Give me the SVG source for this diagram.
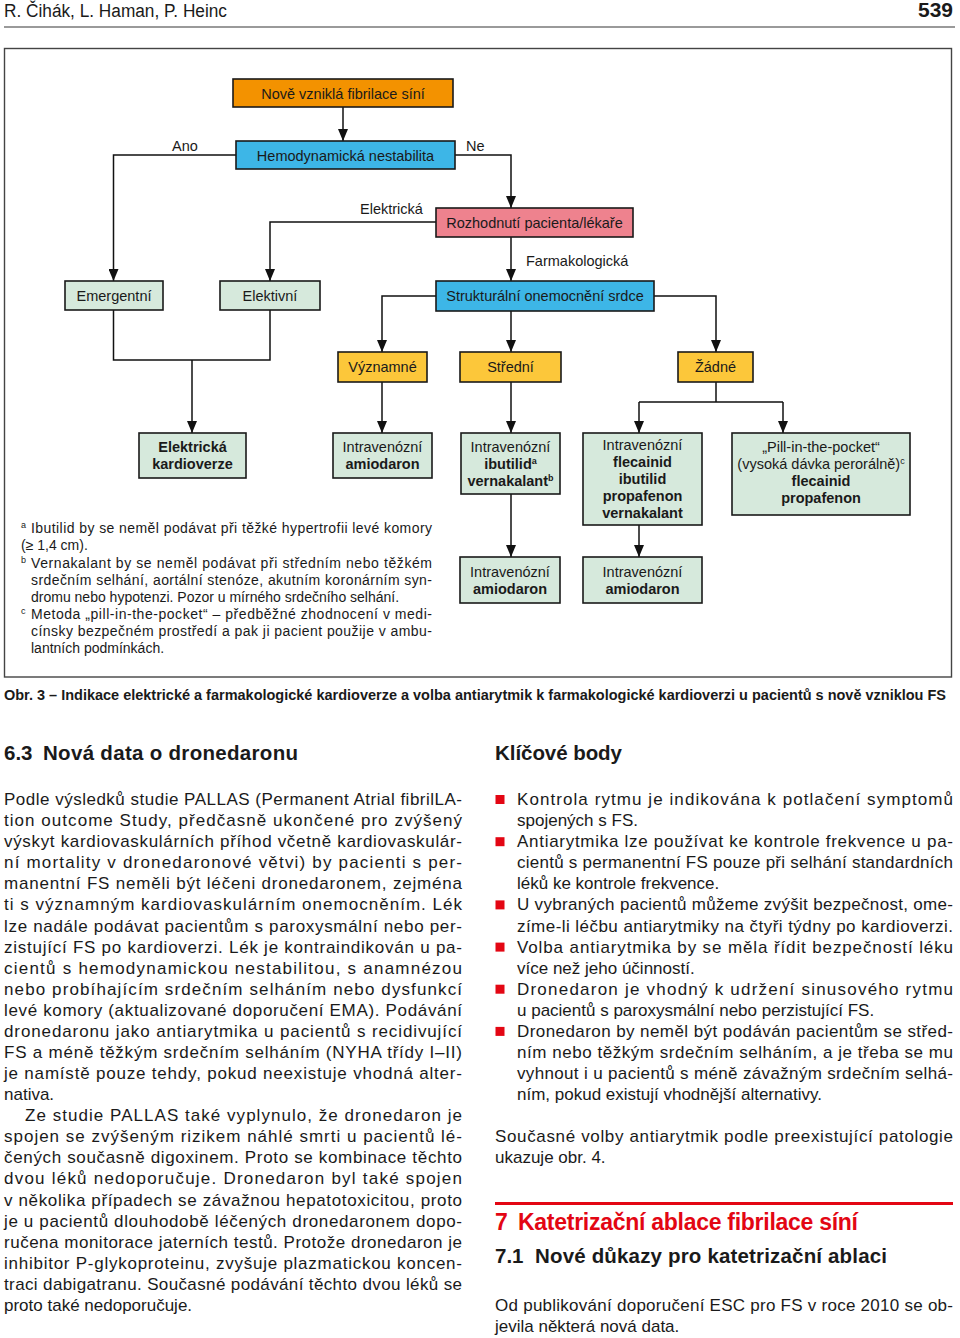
<svg xmlns="http://www.w3.org/2000/svg" width="960" height="1338" viewBox="0 0 960 1338">
<defs>
<marker id="arr" viewBox="0 0 12 10" refX="12" refY="5" markerWidth="12" markerHeight="10" markerUnits="userSpaceOnUse" orient="auto">
<path d="M0,0 L12,5 L0,10 z" fill="#111"/>
</marker>
<style>
text{font-family:"Liberation Sans",Arial,sans-serif;fill:#1a1a1a}
.bx{stroke:#1a1a1a;stroke-width:1.6}
.or{fill:#F39200}.bl{fill:#3DB6E7}.pk{fill:#EE828E}.ye{fill:#FCC73A}.gr{fill:#D6E9DC}
.nt{font-size:14.5px;text-anchor:middle}
.b{font-weight:bold}
.lb{font-size:14.5px}
.fn{font-size:14px}
.sup{font-size:9px}
.body{font-size:17px}
.h2{font-size:20.5px;font-weight:bold}
.con{fill:none;stroke:#111;stroke-width:1.5}
.ar{marker-end:url(#arr)}
.bul{fill:#E30613}
</style>
</defs>
<rect width="960" height="1338" fill="#fff"/>

<!-- page header -->
<text x="4" y="17" font-size="18" textLength="223" lengthAdjust="spacingAndGlyphs">R. Čihák, L. Haman, P. Heinc</text>
<text x="953" y="17" font-size="20" font-weight="bold" text-anchor="end" textLength="35" lengthAdjust="spacingAndGlyphs">539</text>
<line x1="4" y1="27" x2="955" y2="27" stroke="#9a9a9a" stroke-width="2"/>

<!-- frame -->
<rect x="4.5" y="48.5" width="947" height="628.5" fill="none" stroke="#444" stroke-width="1.4"/>

<!-- connectors -->
<g id="connectors">
<path class="con ar" d="M343,107 V141"/>
<path class="con ar" d="M236,155 H113.5 V281"/>
<path class="con ar" d="M455,155 H511 V208"/>
<path class="con ar" d="M436,222 H270 V281"/>
<path class="con ar" d="M511,237 V281"/>
<path class="con ar" d="M436,296 H382 V352"/>
<path class="con ar" d="M511,311 V352"/>
<path class="con ar" d="M654,296 H716 V352"/>
<path class="con" d="M113.5,310 V360 H270 V310"/>
<path class="con ar" d="M192,360 V433"/>
<path class="con ar" d="M382,382 V433"/>
<path class="con ar" d="M511,382 V433"/>
<path class="con" d="M716,382 V402 M639,402 H783"/>
<path class="con ar" d="M639,402 V433"/>
<path class="con ar" d="M783,402 V433"/>
<path class="con ar" d="M511,494 V557"/>
<path class="con ar" d="M639,525 V557"/>
<text class="lb" x="172" y="151">Ano</text>
<text class="lb" x="466" y="151">Ne</text>
<text class="lb" x="360" y="214">Elektrická</text>
<text class="lb" x="526" y="266">Farmakologická</text>
</g>

<g id="n-nove">
<rect class="bx or" x="233" y="79" width="220" height="28"/>
<text class="nt" x="343" y="98.5">Nově vzniklá fibrilace síní</text>
</g>
<g id="n-hemo">
<rect class="bx bl" x="236" y="141" width="219" height="28"/>
<text class="nt" x="345.5" y="160.5">Hemodynamická nestabilita</text>
</g>
<g id="n-rozhodnuti">
<rect class="bx pk" x="436" y="208" width="197" height="29"/>
<text class="nt" x="534.5" y="227.5">Rozhodnutí pacienta/lékaře</text>
</g>
<g id="n-emergentni">
<rect class="bx gr" x="65" y="281" width="98" height="29"/>
<text class="nt" x="114" y="300.5">Emergentní</text>
</g>
<g id="n-elektivni">
<rect class="bx gr" x="220" y="281" width="100" height="29"/>
<text class="nt" x="270" y="300.5">Elektivní</text>
</g>
<g id="n-strukturalni">
<rect class="bx bl" x="436" y="281" width="218" height="30"/>
<text class="nt" x="545" y="301">Strukturální onemocnění srdce</text>
</g>
<g id="n-vyznamne">
<rect class="bx ye" x="338" y="352" width="89" height="30"/>
<text class="nt" x="382.5" y="372">Významné</text>
</g>
<g id="n-stredni">
<rect class="bx ye" x="460" y="352" width="101" height="30"/>
<text class="nt" x="510.5" y="372">Střední</text>
</g>
<g id="n-zadne">
<rect class="bx ye" x="678" y="352" width="75" height="30"/>
<text class="nt" x="715.5" y="372">Žádné</text>
</g>
<g id="n-ekv">
<rect class="bx gr" x="139" y="433" width="107" height="45"/>
<text class="nt b" x="192.5" y="452">Elektrická</text>
<text class="nt b" x="192.5" y="469">kardioverze</text>
</g>
<g id="n-amio1">
<rect class="bx gr" x="333" y="433" width="99" height="45"/>
<text class="nt" x="382.5" y="452">Intravenózní</text>
<text class="nt b" x="382.5" y="469">amiodaron</text>
</g>
<g id="n-ibut">
<rect class="bx gr" x="461" y="433" width="99" height="61"/>
<text class="nt" x="510.5" y="452">Intravenózní</text>
<text class="nt b" x="510.5" y="469">ibutilid<tspan class="sup" dy="-5">a</tspan></text>
<text class="nt b" x="510.5" y="486">vernakalant<tspan class="sup" dy="-5">b</tspan></text>
</g>
<g id="n-flec">
<rect class="bx gr" x="583" y="433" width="119" height="92"/>
<text class="nt" x="642.5" y="450">Intravenózní</text>
<text class="nt b" x="642.5" y="467">flecainid</text>
<text class="nt b" x="642.5" y="484">ibutilid</text>
<text class="nt b" x="642.5" y="501">propafenon</text>
<text class="nt b" x="642.5" y="518">vernakalant</text>
</g>
<g id="n-pill">
<rect class="bx gr" x="732" y="433" width="178" height="82"/>
<text class="nt" x="821" y="452">„Pill-in-the-pocket“</text>
<text class="nt" x="821" y="469">(vysoká dávka perorálně)<tspan class="sup" dy="-5">c</tspan></text>
<text class="nt b" x="821" y="486">flecainid</text>
<text class="nt b" x="821" y="503">propafenon</text>
</g>
<g id="n-amio2">
<rect class="bx gr" x="460" y="557" width="100" height="46"/>
<text class="nt" x="510" y="577">Intravenózní</text>
<text class="nt b" x="510" y="594">amiodaron</text>
</g>
<g id="n-amio3">
<rect class="bx gr" x="583" y="557" width="119" height="46"/>
<text class="nt" x="642.5" y="577">Intravenózní</text>
<text class="nt b" x="642.5" y="594">amiodaron</text>
</g>

<!-- footnotes -->
<g id="footnotes" class="fn">
<text class="sup" x="21" y="528">a</text>
<text x="31" y="533" textLength="401" lengthAdjust="spacing">Ibutilid by se neměl podávat při těžké hypertrofii levé komory</text>
<text x="21" y="550">(≥ 1,4 cm).</text>
<text class="sup" x="21" y="563">b</text>
<text x="31" y="568" textLength="401" lengthAdjust="spacing">Vernakalant by se neměl podávat při středním nebo těžkém</text>
<text x="31" y="585" textLength="401" lengthAdjust="spacing">srdečním selhání, aortální stenóze, akutním koronárním syn-</text>
<text x="31" y="602">dromu nebo hypotenzi. Pozor u mírného srdečního selhání.</text>
<text class="sup" x="21" y="614">c</text>
<text x="31" y="619" textLength="401" lengthAdjust="spacing">Metoda „pill-in-the-pocket“ – předběžné zhodnocení v medi-</text>
<text x="31" y="636" textLength="401" lengthAdjust="spacing">cínsky bezpečném prostředí a pak ji pacient použije v ambu-</text>
<text x="31" y="653">lantních podmínkách.</text>
</g>

<!-- caption -->
<text x="4" y="700" font-size="14" font-weight="bold" textLength="942" lengthAdjust="spacingAndGlyphs">Obr. 3 – Indikace elektrické a farmakologické kardioverze a volba antiarytmik k farmakologické kardioverzi u pacientů s nově vzniklou FS</text>

<!-- left column -->
<text class="h2" x="4" y="760">6.3</text>
<text class="h2" x="43" y="760" textLength="255" lengthAdjust="spacing">Nová data o dronedaronu</text>
<g class="body">
<text x="4" y="805" textLength="458" lengthAdjust="spacing">Podle výsledků studie PALLAS (Permanent Atrial fibrilLA-</text>
<text x="4" y="826.1" textLength="458" lengthAdjust="spacing">tion outcome Study, předčasně ukončené pro zvýšený</text>
<text x="4" y="847.2" textLength="458" lengthAdjust="spacing">výskyt kardiovaskulárních příhod včetně kardiovaskulár-</text>
<text x="4" y="868.2" textLength="458" lengthAdjust="spacing">ní mortality v dronedaronové větvi) by pacienti s per-</text>
<text x="4" y="889.3" textLength="458" lengthAdjust="spacing">manentní FS neměli být léčeni dronedaronem, zejména</text>
<text x="4" y="910.4" textLength="458" lengthAdjust="spacing">ti s významným kardiovaskulárním onemocněním. Lék</text>
<text x="4" y="931.5" textLength="458" lengthAdjust="spacing">lze nadále podávat pacientům s paroxysmální nebo per-</text>
<text x="4" y="952.6" textLength="458" lengthAdjust="spacing">zistující FS po kardioverzi. Lék je kontraindikován u pa-</text>
<text x="4" y="973.6" textLength="458" lengthAdjust="spacing">cientů s hemodynamickou nestabilitou, s anamnézou</text>
<text x="4" y="994.7" textLength="458" lengthAdjust="spacing">nebo probíhajícím srdečním selháním nebo dysfunkcí</text>
<text x="4" y="1015.8" textLength="458" lengthAdjust="spacing">levé komory (aktualizované doporučení EMA). Podávání</text>
<text x="4" y="1036.9" textLength="458" lengthAdjust="spacing">dronedaronu jako antiarytmika u pacientů s recidivující</text>
<text x="4" y="1058" textLength="458" lengthAdjust="spacing">FS a méně těžkým srdečním selháním (NYHA třídy I–II)</text>
<text x="4" y="1079" textLength="458" lengthAdjust="spacing">je namístě pouze tehdy, pokud neexistuje vhodná alter-</text>
<text x="4" y="1100.1">nativa.</text>
<text x="25" y="1121.2" textLength="437" lengthAdjust="spacing">Ze studie PALLAS také vyplynulo, že dronedaron je</text>
<text x="4" y="1142.3" textLength="458" lengthAdjust="spacing">spojen se zvýšeným rizikem náhlé smrti u pacientů lé-</text>
<text x="4" y="1163.4" textLength="458" lengthAdjust="spacing">čených současně digoxinem. Proto se kombinace těchto</text>
<text x="4" y="1184.4" textLength="458" lengthAdjust="spacing">dvou léků nedoporučuje. Dronedaron byl také spojen</text>
<text x="4" y="1205.5" textLength="458" lengthAdjust="spacing">v několika případech se závažnou hepatotoxicitou, proto</text>
<text x="4" y="1226.6" textLength="458" lengthAdjust="spacing">je u pacientů dlouhodobě léčených dronedaronem dopo-</text>
<text x="4" y="1247.7" textLength="458" lengthAdjust="spacing">ručena monitorace jaterních testů. Protože dronedaron je</text>
<text x="4" y="1268.8" textLength="458" lengthAdjust="spacing">inhibitor P-glykoproteinu, zvyšuje plazmatickou koncen-</text>
<text x="4" y="1289.8" textLength="458" lengthAdjust="spacing">traci dabigatranu. Současné podávání těchto dvou léků se</text>
<text x="4" y="1310.9">proto také nedoporučuje.</text>
</g>

<!-- right column -->
<text class="h2" x="495" y="760" textLength="127" lengthAdjust="spacing">Klíčové body</text>
<g class="bul">
<rect x="495.5" y="795" width="9" height="9"/>
<rect x="495.5" y="837.2" width="9" height="9"/>
<rect x="495.5" y="900.4" width="9" height="9"/>
<rect x="495.5" y="942.6" width="9" height="9"/>
<rect x="495.5" y="984.7" width="9" height="9"/>
<rect x="495.5" y="1026.9" width="9" height="9"/>
</g>
<g class="body">
<text x="517" y="805" textLength="436" lengthAdjust="spacing">Kontrola rytmu je indikována k potlačení symptomů</text>
<text x="517" y="826.1">spojených s FS.</text>
<text x="517" y="847.2" textLength="436" lengthAdjust="spacing">Antiarytmika lze používat ke kontrole frekvence u pa-</text>
<text x="517" y="868.2" textLength="436" lengthAdjust="spacing">cientů s permanentní FS pouze při selhání standardních</text>
<text x="517" y="889.3">léků ke kontrole frekvence.</text>
<text x="517" y="910.4" textLength="436" lengthAdjust="spacing">U vybraných pacientů můžeme zvýšit bezpečnost, ome-</text>
<text x="517" y="931.5" textLength="436" lengthAdjust="spacing">zíme-li léčbu antiarytmiky na čtyři týdny po kardioverzi.</text>
<text x="517" y="952.6" textLength="436" lengthAdjust="spacing">Volba antiarytmika by se měla řídit bezpečností léku</text>
<text x="517" y="973.6">více než jeho účinností.</text>
<text x="517" y="994.7" textLength="436" lengthAdjust="spacing">Dronedaron je vhodný k udržení sinusového rytmu</text>
<text x="517" y="1015.8">u pacientů s paroxysmální nebo perzistující FS.</text>
<text x="517" y="1036.9" textLength="436" lengthAdjust="spacing">Dronedaron by neměl být podáván pacientům se střed-</text>
<text x="517" y="1058" textLength="436" lengthAdjust="spacing">ním nebo těžkým srdečním selháním, a je třeba se mu</text>
<text x="517" y="1079" textLength="436" lengthAdjust="spacing">vyhnout i u pacientů s méně závažným srdečním selhá-</text>
<text x="517" y="1100.1">ním, pokud existují vhodnější alternativy.</text>
<text x="495" y="1142.3" textLength="458" lengthAdjust="spacing">Současné volby antiarytmik podle preexistující patologie</text>
<text x="495" y="1163.4">ukazuje obr. 4.</text>
<text x="495" y="1310.9" textLength="458" lengthAdjust="spacing">Od publikování doporučení ESC pro FS v roce 2010 se ob-</text>
<text x="495" y="1332">jevila některá nová data.</text>
</g>
<line x1="495" y1="1203.5" x2="953" y2="1203.5" stroke="#E30613" stroke-width="3"/>
<text x="495" y="1230" font-size="23" font-weight="bold" style="fill:#E30613">7</text>
<text x="518" y="1230" font-size="23" font-weight="bold" style="fill:#E30613" textLength="340" lengthAdjust="spacing">Katetrizační ablace fibrilace síní</text>
<text class="h2" x="495" y="1263">7.1</text>
<text class="h2" x="535" y="1263" textLength="352" lengthAdjust="spacing">Nové důkazy pro katetrizační ablaci</text>
</svg>
